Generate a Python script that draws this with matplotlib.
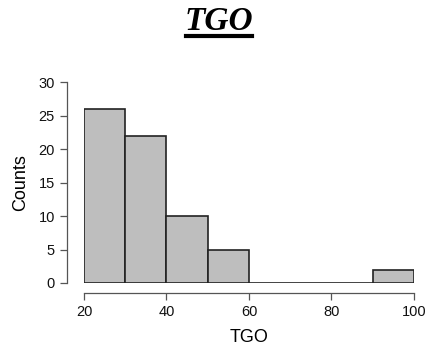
import matplotlib
matplotlib.use("Agg")
import matplotlib.pyplot as plt
from matplotlib.lines import Line2D

bin_edges = [20, 30, 40, 50, 60, 70, 80, 90, 100]
counts = [26, 22, 10, 5, 0, 0, 0, 2]
x_ticks = [20, 40, 60, 80, 100]
y_ticks = [0, 5, 10, 15, 20, 25, 30]

fig = plt.figure(figsize=(4.27, 3.49), dpi=100)
ax = fig.add_axes([84/427, 1-283/349, (414-84)/427, (283-82)/349])

lefts = bin_edges[:-1]
widths = [b - a for a, b in zip(bin_edges[:-1], bin_edges[1:])]
ax.bar(lefts, counts, width=widths, align='edge', color='#BEBEBE',
       edgecolor='#222222', linewidth=1.2)

ax.set_xlim(20, 100)
ax.set_ylim(0, 30)
ax.set_xticks(x_ticks)
ax.set_yticks(y_ticks)
for s in ['top', 'right']:
    ax.spines[s].set_visible(False)
ax.spines['left'].set_position(('outward', 12))
ax.spines['bottom'].set_position(('outward', 7.2))
ax.spines['left'].set_bounds(0, 30)
ax.spines['bottom'].set_bounds(20, 100)
for s in ['left', 'bottom']:
    ax.spines[s].set_color('#555555')
    ax.spines[s].set_linewidth(0.9)
ax.tick_params(axis='both', length=5, width=0.9, color='#555555',
               labelsize=10.5, labelcolor='#111111', pad=4)
for lab in ax.get_xticklabels() + ax.get_yticklabels():
    lab.set_family('Liberation Sans')
ax.set_xlabel('TGO', fontsize=13, family='Liberation Sans', labelpad=7)
ax.set_ylabel('Counts', fontsize=13, family='Liberation Sans', labelpad=7)

fig.text(219/427, 1-21/349, 'TGO', ha='center', va='center', fontsize=24,
         family='Liberation Serif', fontweight='bold', fontstyle='italic')
fig.add_artist(Line2D([186/427, 252/427], [1-36/349, 1-36/349],
                      color='black', linewidth=3, transform=fig.transFigure))

fig.savefig('out.png', dpi=100)
